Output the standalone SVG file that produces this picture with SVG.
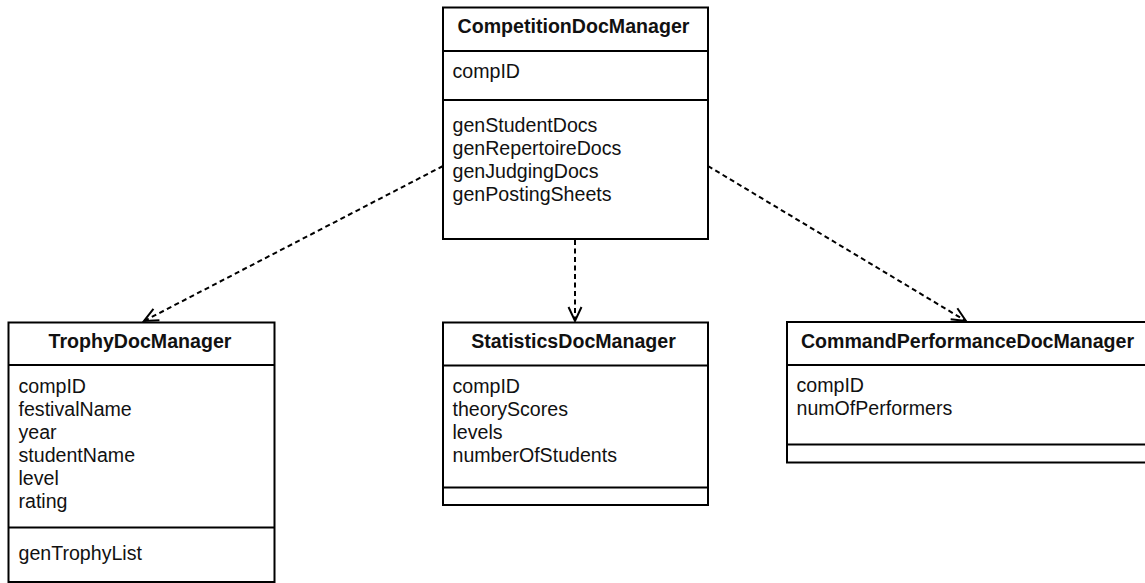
<svg xmlns="http://www.w3.org/2000/svg" width="1145" height="583" viewBox="0 0 1145 583">
<style>
.box{fill:#fff;stroke:#000;stroke-width:2}
.div{stroke:#000;stroke-width:2}
.t{font-family:"Liberation Sans",Arial,Helvetica,sans-serif;font-size:19.6px;fill:#111}
.title{font-weight:bold;text-anchor:middle}
.dep{fill:none;stroke:#000;stroke-width:2;stroke-dasharray:5 3.5}
</style>
<defs>
<marker id="open" markerUnits="userSpaceOnUse" markerWidth="20" markerHeight="20" refX="15" refY="8" orient="auto" overflow="visible">
<path d="M1,1.5 L15,8 L1,14.5" fill="none" stroke="#000" stroke-width="2" stroke-dasharray="none"/>
</marker>
</defs>
<rect width="1145" height="583" fill="#fff"/>
<g id="connectors">
<line class="dep" x1="443" y1="166" x2="144" y2="321" marker-end="url(#open)"/>
<line class="dep" x1="575" y1="240" x2="575" y2="321" marker-end="url(#open)"/>
<line class="dep" x1="708" y1="166" x2="966" y2="321" marker-end="url(#open)"/>
</g>
<g id="CompetitionDocManager">
<rect class="box" x="443" y="7.5" width="265" height="231.5"/>
<line class="div" x1="443" y1="51" x2="708" y2="51"/>
<line class="div" x1="443" y1="100" x2="708" y2="100"/>
<text class="t title" x="573.5" y="33">CompetitionDocManager</text>
<text class="t" x="452.5" y="78">compID</text>
<text class="t" x="452.5" y="132">genStudentDocs</text>
<text class="t" x="452.5" y="155">genRepertoireDocs</text>
<text class="t" x="452.5" y="178">genJudgingDocs</text>
<text class="t" x="452.5" y="201">genPostingSheets</text>
</g>
<g id="TrophyDocManager">
<rect class="box" x="8.5" y="322.5" width="266" height="259.5"/>
<line class="div" x1="8.5" y1="365" x2="274.5" y2="365"/>
<line class="div" x1="8.5" y1="527.5" x2="274.5" y2="527.5"/>
<text class="t title" x="140" y="348">TrophyDocManager</text>
<text class="t" x="18.5" y="393">compID</text>
<text class="t" x="18.5" y="416">festivalName</text>
<text class="t" x="18.5" y="439">year</text>
<text class="t" x="18.5" y="462">studentName</text>
<text class="t" x="18.5" y="485">level</text>
<text class="t" x="18.5" y="508">rating</text>
<text class="t" x="18.5" y="560">genTrophyList</text>
</g>
<g id="StatisticsDocManager">
<rect class="box" x="443" y="322.5" width="265" height="182.5"/>
<line class="div" x1="443" y1="365.5" x2="708" y2="365.5"/>
<line class="div" x1="443" y1="487.5" x2="708" y2="487.5"/>
<text class="t title" x="573.5" y="348">StatisticsDocManager</text>
<text class="t" x="452.5" y="393">compID</text>
<text class="t" x="452.5" y="416">theoryScores</text>
<text class="t" x="452.5" y="439">levels</text>
<text class="t" x="452.5" y="462">numberOfStudents</text>
</g>
<g id="CommandPerformanceDocManager">
<rect class="box" x="787" y="322" width="362" height="140.5"/>
<line class="div" x1="787" y1="365" x2="1149" y2="365"/>
<line class="div" x1="787" y1="444.5" x2="1149" y2="444.5"/>
<text class="t title" x="967.5" y="348">CommandPerformanceDocManager</text>
<text class="t" x="796.5" y="392">compID</text>
<text class="t" x="796.5" y="415">numOfPerformers</text>
</g>
</svg>
